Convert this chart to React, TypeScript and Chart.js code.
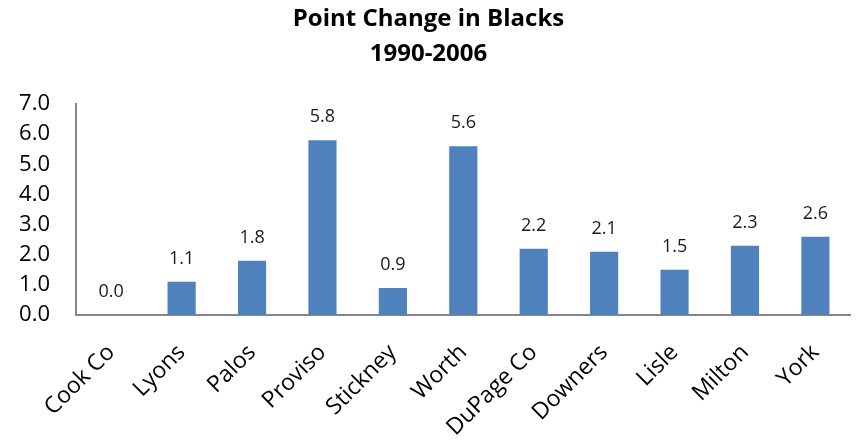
import React, { useEffect, useRef } from "react";
import { Chart, registerables } from "chart.js";

Chart.register(...registerables);

const categories = ["Cook Co", "Lyons", "Palos", "Proviso", "Stickney", "Worth", "DuPage Co", "Downers", "Lisle", "Milton", "York"];
const values = [0.0, 1.1, 1.8, 5.8, 0.9, 5.6, 2.2, 2.1, 1.5, 2.3, 2.6];
const titleLines = ["Point Change in Blacks", "1990-2006"];
const FONT = "'Open Sans', sans-serif";

const valueLabels = {
  id: "valueLabels",
  afterDatasetsDraw(chart: any) {
    const ctx = chart.ctx;
    const meta = chart.getDatasetMeta(0);
    ctx.save();
    ctx.font = `18px ${FONT}`;
    ctx.fillStyle = "#1a1a1a";
    ctx.textAlign = "center";
    ctx.textBaseline = "alphabetic";
    meta.data.forEach((bar: any, i: number) => {
      ctx.fillText(values[i].toFixed(1), bar.x, bar.y - 18);
    });
    ctx.restore();
  },
};

export default function App() {
  const ref = useRef<HTMLCanvasElement>(null);
  useEffect(() => {
    document.body.style.margin = "0";
    const chart = new Chart(ref.current!, {
      type: "bar",
      data: {
        labels: categories,
        datasets: [
          {
            data: values,
            backgroundColor: "#4F81BD",
            categoryPercentage: 1,
            barPercentage: 0.4,
          },
        ],
      },
      options: {
        animation: false,
        responsive: false,
        layout: { padding: { left: 0, right: 2, top: 0, bottom: 0 } },
        plugins: {
          legend: { display: false },
          tooltip: { enabled: false },
          title: {
            display: true,
            text: titleLines,
            color: "#000",
            font: { family: FONT, size: 24, weight: "bold", lineHeight: 1.46 },
            padding: { top: 2, bottom: 32 },
          },
        },
        scales: {
          x: {
            grid: { display: false, drawTicks: false },
            border: { display: true, color: "#868686", width: 2 },
            ticks: {
              color: "#000",
              font: { family: FONT, size: 23 },
              minRotation: 45,
              maxRotation: 45,
              padding: 24,
            },
            afterFit(scale: any) {
              scale.height = 128;
            },
          },
          y: {
            min: 0,
            max: 7,
            grid: { display: false, drawTicks: false },
            border: { display: true, color: "#868686", width: 2 },
            ticks: {
              stepSize: 1,
              color: "#000",
              font: { family: FONT, size: 22 },
              padding: 26,
              callback: (v: any) => Number(v).toFixed(1),
            },
            afterFit(scale: any) {
              scale.width = 76;
            },
          },
        },
      },
      plugins: [valueLabels],
    });
    return () => chart.destroy();
  }, []);
  return (
    <div style={{ width: 859, height: 443 }}>
      <canvas ref={ref} width={859} height={443} />
    </div>
  );
}
